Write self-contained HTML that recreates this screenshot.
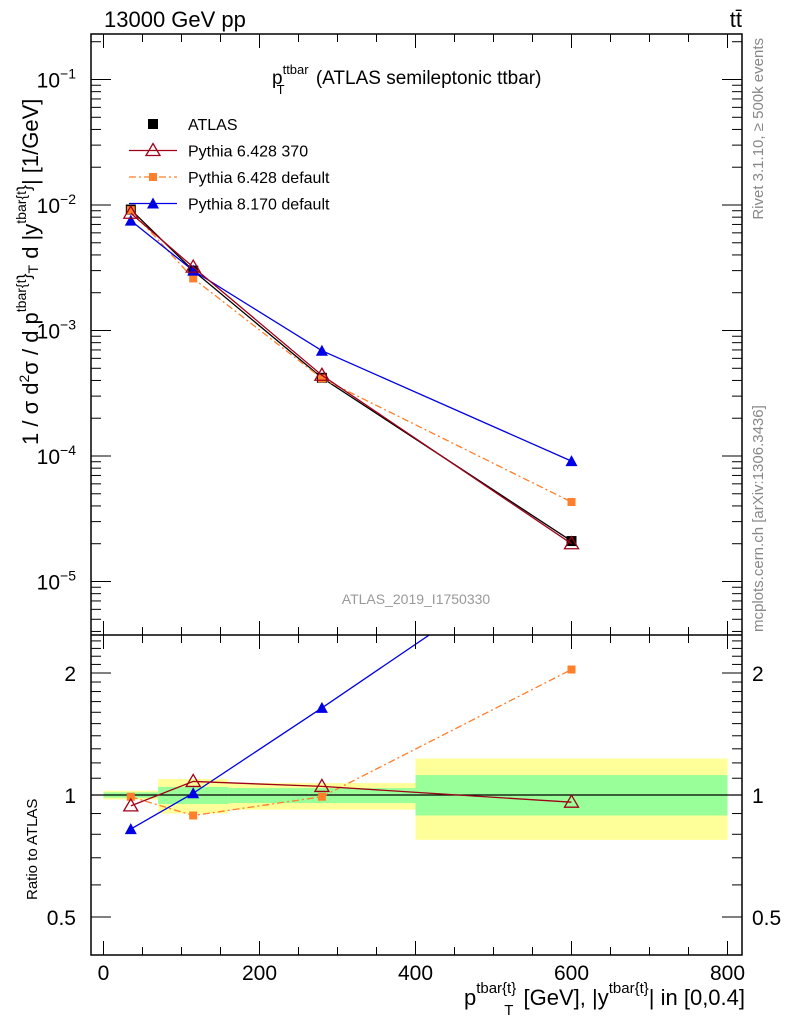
<!DOCTYPE html>
<html><head><meta charset="utf-8"><style>
body{margin:0;background:#fff;}
svg{display:block;font-family:"Liberation Sans",sans-serif;}
</style></head><body>
<svg id="c" width="786" height="1024" viewBox="0 0 786 1024"></svg>
<script>
const xCenters=[35,115,280,600];
const binEdges=[0,70,160,400,800];
const atlas=[9.2e-3,3.0e-3,4.2e-4,2.1e-5];
const py6_370=[8.6e-3,3.2e-3,4.4e-4,2.0e-5];
const py6_def=[9.1e-3,2.6e-3,4.15e-4,4.3e-5];
const py8=[7.5e-3,3.0e-3,6.9e-4,9.1e-5];
const ratio370=[0.94,1.08,1.05,0.96];
const ratioDef=[0.99,0.89,0.99,2.04];
const ratio8=[0.824,1.01,1.64,4.3];
const yellowHi=[1.025,1.095,1.07,1.23];
const yellowLo=[0.975,0.90,0.92,0.775];
const greenHi=[1.015,1.047,1.04,1.12];
const greenLo=[0.985,0.95,0.955,0.89];
const xTicks=[0,200,400,600,800];
const mainTicks=[-1,-2,-3,-4,-5];
const ratioTicks=[0.5,1,2];

const NS="http://www.w3.org/2000/svg";
const svg=document.getElementById('c');
function el(t,a,p){const e=document.createElementNS(NS,t);for(const k in a)e.setAttribute(k,a[k]);(p||svg).appendChild(e);return e;}
const L=91,R=742,T=34,M=635,B=955;
const X=v=>103.5+v*0.78;
const YM=v=>79.5-(Math.log10(v)+1)*125.5;
const YR=v=>795-Math.log2(v)*122;

const band=el('g',{});


for(let i=0;i<4;i++){
  el('rect',{x:X(binEdges[i]),y:YR(yellowHi[i]),width:X(binEdges[i+1])-X(binEdges[i]),height:YR(yellowLo[i])-YR(yellowHi[i]),fill:'#ffff99'},band);
}
for(let i=0;i<4;i++){
  el('rect',{x:X(binEdges[i]),y:YR(greenHi[i]),width:X(binEdges[i+1])-X(binEdges[i]),height:YR(greenLo[i])-YR(greenHi[i]),fill:'#99ff99'},band);
}
el('line',{x1:L,x2:R,y1:YR(1),y2:YR(1),stroke:'#000','stroke-width':1.2});

const defs=el('defs',{});
const c1=el('clipPath',{id:'cm'},defs);el('rect',{x:L,y:T,width:R-L,height:M-T},c1);
const c2=el('clipPath',{id:'cr'},defs);el('rect',{x:L,y:M,width:R-L,height:B-M},c2);

function marker(g,type,x,y,color){
  if(type==='sq')el('rect',{x:x-5,y:y-5,width:10,height:10,fill:color},g);
  else if(type==='sqs')el('rect',{x:x-4,y:y-4,width:8,height:8,fill:color},g);
  else if(type==='tri')el('path',{d:`M${x},${y-6}L${x+6},${y+5}L${x-6},${y+5}Z`,fill:color},g);
  else if(type==='otri')el('path',{d:`M${x},${y-7}L${x+7},${y+5}L${x-7},${y+5}Z`,fill:'none',stroke:color,'stroke-width':1.3},g);
}
function series(name,vals,Y,color,dash,mk,clip){
  const g=el('g',{'clip-path':`url(#${clip})`});
  
  
  const pts=vals.map((v,i)=>X(xCenters[i])+','+Y(v)).join(' ');
  const a={points:pts,fill:'none',stroke:color,'stroke-width':1.3};
  if(dash)a['stroke-dasharray']=dash;
  el('polyline',a,g);
  vals.forEach((v,i)=>marker(g,mk,X(xCenters[i]),Y(v),color));
}
series('atlas-data',atlas,YM,'#000',null,'sq','cm');
series('pythia6-default-main',py6_def,YM,'#ff7f2a','7,3,2,3','sqs','cm');
series('pythia8-main',py8,YM,'#0000e6',null,'tri','cm');
series('pythia6-370-main',py6_370,YM,'#a00018',null,'otri','cm');
series('pythia6-default-ratio',ratioDef,YR,'#ff7f2a','7,3,2,3','sqs','cr');
series('pythia8-ratio',ratio8,YR,'#0000e6',null,'tri','cr');
series('pythia6-370-ratio',ratio370,YR,'#a00018',null,'otri','cr');

el('rect',{x:L,y:T,width:R-L,height:B-T,fill:'none',stroke:'#000','stroke-width':1.5});
el('line',{x1:L,x2:R,y1:M,y2:M,stroke:'#000','stroke-width':1.5});

for(let v=0;v<=800;v+=50){
  const big=v%200===0,len=big?14:8;
  [T,M].forEach(y=>el('line',{x1:X(v),x2:X(v),y1:y,y2:y+len,stroke:'#000'}));
  [M,B].forEach(y=>el('line',{x1:X(v),x2:X(v),y1:y,y2:y-len,stroke:'#000'}));
}
xTicks.forEach(v=>{const t=el('text',{x:X(v),y:980,'font-size':21,'text-anchor':'middle'});t.textContent=v;
});

for(let d=-6;d<=-1;d++)for(let m=1;m<10;m++){
  const v=m*Math.pow(10,d),y=YM(v);if(y<T||y>M)continue;
  const len=m===1?20:10;
  el('line',{x1:L,x2:L+len,y1:y,y2:y,stroke:'#000'});
  el('line',{x1:R,x2:R-len,y1:y,y2:y,stroke:'#000'});
}
mainTicks.forEach(e=>{const t=el('text',{x:76,y:YM(Math.pow(10,e))+8,'font-size':21,'text-anchor':'end'});

t.innerHTML=`10<tspan dy="-9" font-size="14">${e<0?'−'+(-e):e}</tspan>`;});

for(let v=0.4;v<=2.5;v+=0.1){const y=YR(v);if(y<M||y>B)continue;
  const big=[0.5,1,2].some(k=>Math.abs(k-v)<1e-6),len=big?20:10;
  el('line',{x1:L,x2:L+len,y1:y,y2:y,stroke:'#000'});el('line',{x1:R,x2:R-len,y1:y,y2:y,stroke:'#000'});}
ratioTicks.forEach(v=>{[76,752].forEach((x,j)=>{const t=el('text',{x:x,y:YR(v)+8,'font-size':21,'text-anchor':j?'start':'end'});
t.textContent=v;});});

function txt(s,a,name){const t=el('text',a);t.innerHTML=s;return t;}
txt('13000 GeV pp',{x:104,y:27,'font-size':22},'collision-label');
txt('tt̄',{x:742,y:27,'font-size':22,'text-anchor':'end'},'process-label');
txt('p<tspan dy="-10" font-size="13">ttbar</tspan><tspan dy="20" dx="-32" font-size="13">T</tspan><tspan dy="-10" dx="26"> (ATLAS semileptonic ttbar)</tspan>',{x:272,y:84,'font-size':19},'plot-title');
txt('ATLAS_2019_I1750330',{x:416,y:604,'font-size':14,fill:'#999','text-anchor':'middle'},'analysis-id');
txt('Rivet 3.1.10, ≥ 500k events',{x:763,y:38,'font-size':15,fill:'#888','text-anchor':'end',transform:'rotate(-90 763 38)'},'rivet-label');
txt('mcplots.cern.ch [arXiv:1306.3436]',{x:763,y:632,'font-size':15,fill:'#888','text-anchor':'start',transform:'rotate(-90 763 632)'},'mcplots-label');
txt('1 / σ d<tspan dy="-9" font-size="14">2</tspan><tspan dy="9">σ / d p</tspan><tspan dy="-12" font-size="14">tbar{t</tspan><tspan dy="4" font-size="18">}</tspan><tspan dy="8" font-size="14">T</tspan><tspan dy="0"> d |y</tspan><tspan dy="-12" font-size="14">tbar{t</tspan><tspan dy="4" font-size="18">}</tspan><tspan dy="8">| [1/GeV]</tspan>',{x:38,y:445,'font-size':22,transform:'rotate(-90 38 445)'},'y-axis-title');
txt('Ratio to ATLAS',{x:37,y:900,'font-size':15,transform:'rotate(-90 37 900)'},'ratio-axis-title');
txt('p<tspan dy="-12" font-size="15">tbar{t}</tspan><tspan dy="22" dx="-12" font-size="15">T</tspan><tspan dy="-10" dx="4"> [GeV], |y</tspan><tspan dy="-12" font-size="15">tbar{t}</tspan><tspan dy="12">| in [0,0.4]</tspan>',{x:745,y:1005,'font-size':22,'text-anchor':'end'},'x-axis-title');

const lg=el('g',{});
const leg=[['ATLAS','#000',null,'sq',false],['Pythia 6.428 370','#a00018',null,'otri',true],['Pythia 6.428 default','#ff7f2a','7,3,2,3','sqs',true],['Pythia 8.170 default','#0000e6',null,'tri',true]];
leg.forEach((l,i)=>{const y=124+i*26.5;const g=el('g',{},lg);

if(l[4]){const a={x1:129,x2:177,y1:y,y2:y,stroke:l[1],'stroke-width':1.3};if(l[2])a['stroke-dasharray']=l[2];el('line',a,g);}
marker(g,l[3],153,y,l[1]);
const t=el('text',{x:188,y:y+6,'font-size':16},g);t.textContent=l[0];});
</script>
</body></html>
